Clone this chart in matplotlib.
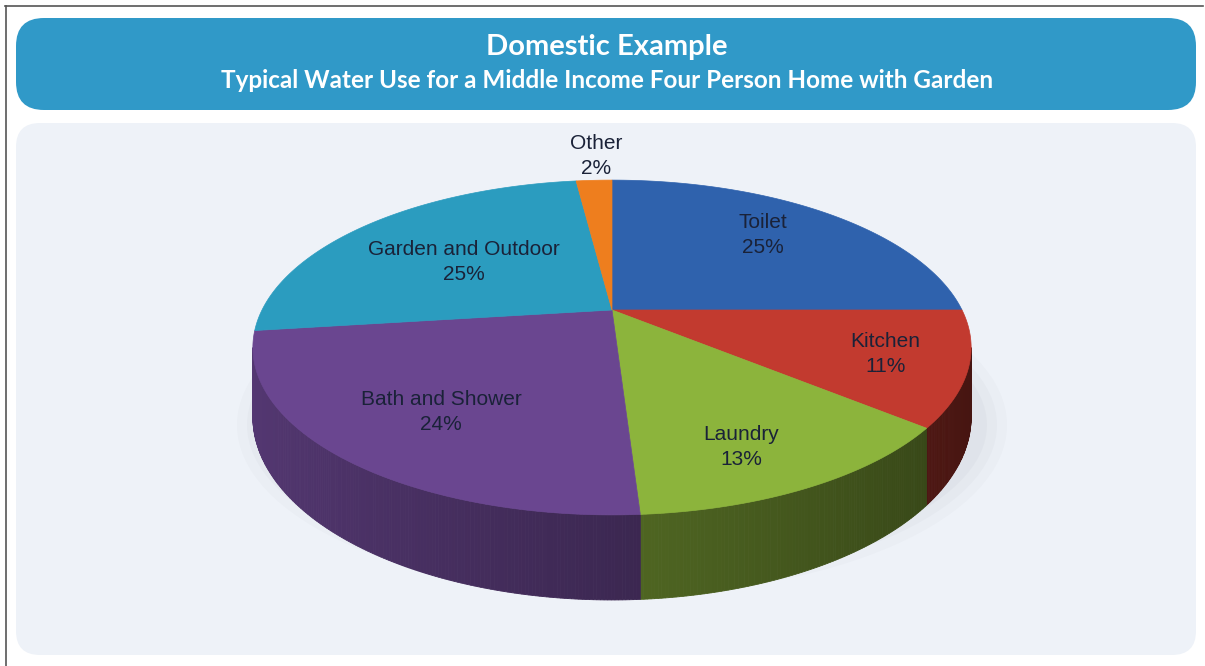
import numpy as np
import matplotlib
matplotlib.use("Agg")
import matplotlib.pyplot as plt
from matplotlib.patches import Polygon, FancyBboxPatch, Ellipse
from matplotlib.colors import to_rgb

# ---- data ----
categories = ["Toilet", "Kitchen", "Laundry", "Bath and Shower", "Garden and Outdoor", "Other"]
values = [25, 11, 13, 24, 25, 2]
colors = ["#2f62ad", "#c23a2f", "#8cb43c", "#6a4690", "#2b9cbf", "#ee7e1e"]
title = "Domestic Example"
subtitle = "Typical Water Use for a Middle Income Four Person Home with Garden"

# label nudges (layout only, pixels)
label_nudge = {"Toilet": (-5, -4), "Kitchen": (30, 4), "Laundry": (0, 22),
               "Bath and Shower": (7, 4), "Garden and Outdoor": (28, 14), "Other": (6, 1)}

# ---- figure (pixel-space axes) ----
W, H = 1205, 666
fig = plt.figure(figsize=(W / 100, H / 100), dpi=100)
ax = fig.add_axes([0, 0, 1, 1])
ax.set_xlim(0, W)
ax.set_ylim(H, 0)
ax.axis("off")

# outer frame lines
ax.plot([5, W - 2], [6, 6], color="#555555", lw=1.2)
ax.plot([6, 6], [6, H], color="#555555", lw=1.2)

# header banner
ax.add_patch(FancyBboxPatch((16, 18), 1180, 92, boxstyle="round,pad=0,rounding_size=28",
                            fc="#3099c8", ec="none"))
ax.text(607, 47, title, ha="center", va="center", color="white",
        fontsize=21, fontweight="bold", family="Lato")
ax.text(607, 81, subtitle, ha="center", va="center", color="white",
        fontsize=17.5, fontweight="bold", family="Lato")

# panel
ax.add_patch(FancyBboxPatch((16, 123), 1180, 532, boxstyle="round,pad=0,rounding_size=24",
                            fc="#eef2f8", ec="none"))

# ---- 3D pie geometry ----
cx, cy = 612, 310
A, B, K = 350, 159, 0.224
DEPTH = 66


def proj(phi, r=1.0, z=0.0):
    x = r * np.sin(phi)
    y = -r * np.cos(phi)
    s = 1.0 / (1.0 - K * y)
    return cx + A * x * s, cy + B * y * s + z * s


vals = np.array(values, dtype=float)
fr = vals / vals.sum()
edges = np.concatenate([[0], np.cumsum(fr)]) * 2 * np.pi

# soft shadow
for (w, h, a) in [(770, 340, 0.04), (750, 320, 0.05), (730, 300, 0.06)]:
    ax.add_patch(Ellipse((cx + 10, 425), w, h, fc="#8a90a0", ec="none", alpha=a))

# visible front arc of the side wall (silhouette points)
sil_r = np.pi - np.arccos(K)
sil_l = np.pi + np.arccos(K)

for i in range(len(vals)):
    a0, a1 = edges[i], edges[i + 1]
    lo, hi = max(a0, sil_r), min(a1, sil_l)
    if hi <= lo:
        continue
    n = max(int((hi - lo) / 0.008), 2)
    ph = np.linspace(lo, hi, n + 1)
    base = np.array(to_rgb(colors[i]))
    for j in range(n):
        p0, p1 = ph[j], ph[j + 1]
        xs0, ys0 = proj(p0)
        xs1, ys1 = proj(p1)
        xb0, yb0 = proj(p0, z=DEPTH)
        xb1, yb1 = proj(p1, z=DEPTH)
        t = (np.sin(0.5 * (p0 + p1)) + 1) / 2  # 0 left .. 1 right
        f = 0.80 - 0.45 * t
        c = np.clip(base * f, 0, 1)
        ax.add_patch(Polygon([(xs0, ys0), (xs1, ys1), (xb1, yb1), (xb0, yb0)],
                             closed=True, fc=c, ec=c, lw=0.6))

# top faces
for i in range(len(vals)):
    ph = np.linspace(edges[i], edges[i + 1], 200)
    xs, ys = proj(ph)
    pts = [(cx, cy)] + list(zip(xs, ys))
    ax.add_patch(Polygon(pts, closed=True, fc=colors[i], ec=colors[i], lw=0.5))

# labels
for i, (cat, v) in enumerate(zip(categories, values)):
    mid = 0.5 * (edges[i] + edges[i + 1])
    r = 1.25 if fr[i] < 0.05 else 0.7
    x, y = proj(mid, r=r)
    dx, dy = label_nudge.get(cat, (0, 0))
    ax.text(x + dx, y + dy, f"{cat}\n{v}%", ha="center", va="center", fontsize=15,
            color="#1a2238", family="Liberation Sans", linespacing=1.4)

fig.savefig("out.png", dpi=100, facecolor="white")
